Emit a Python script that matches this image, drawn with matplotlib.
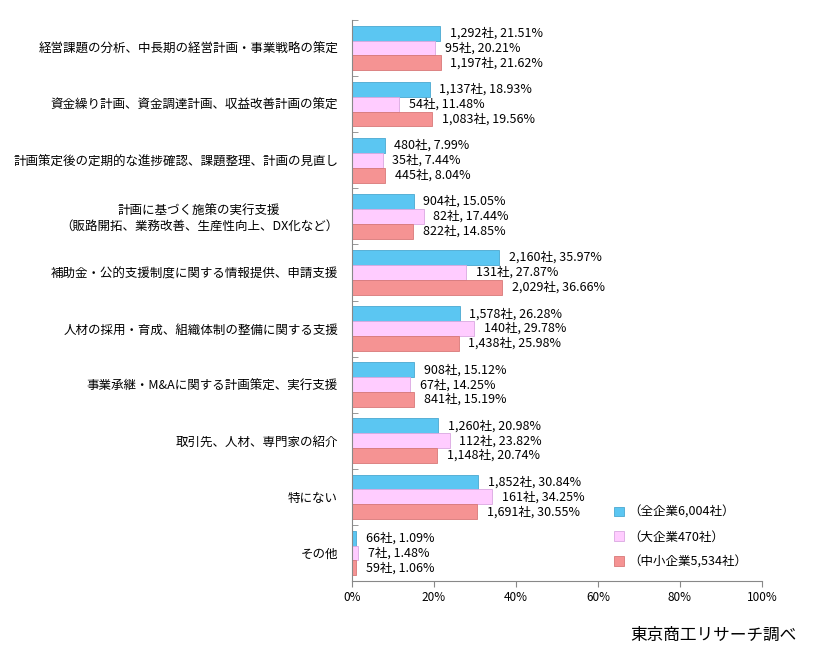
import matplotlib.pyplot as plt
import numpy as np
from matplotlib.patches import Patch

#### -------- データ -------- ####
categories = [
    "経営課題の分析、中長期の経営計画・事業戦略の策定",
    "資金繰り計画、資金調達計画、収益改善計画の策定",
    "計画策定後の定期的な進捗確認、課題整理、計画の見直し",
    "計画に基づく施策の実行支援\n（販路開拓、業務改善、生産性向上、DX化など）",
    "補助金・公的支援制度に関する情報提供、申請支援",
    "人材の採用・育成、組織体制の整備に関する支援",
    "事業承継・M&Aに関する計画策定、実行支援",
    "取引先、人材、専門家の紹介",
    "特にない",
    "その他",
]
series_names = ["（全企業6,004社）", "（大企業470社）", "（中小企業5,534社）"]
all_counts = [1292, 1137, 480, 904, 2160, 1578, 908, 1260, 1852, 66]
all_pct = [21.51, 18.93, 7.99, 15.05, 35.97, 26.28, 15.12, 20.98, 30.84, 1.09]
large_counts = [95, 54, 35, 82, 131, 140, 67, 112, 161, 7]
large_pct = [20.21, 11.48, 7.44, 17.44, 27.87, 29.78, 14.25, 23.82, 34.25, 1.48]
sme_counts = [1197, 1083, 445, 822, 2029, 1438, 841, 1148, 1691, 59]
sme_pct = [21.62, 19.56, 8.04, 14.85, 36.66, 25.98, 15.19, 20.74, 30.55, 1.06]
x_ticks = [0, 20, 40, 60, 80, 100]

#### -------- グラフ設定 -------- ####
plt.rcParams["font.family"] = ["Noto Sans CJK JP", "DejaVu Sans"]
plt.rcParams["font.size"] = 9

colors = ["#5bc6f2", "#ffccff", "#f59393"]
edges = ["#4aa8d0", "#d9a8e0", "#d87878"]

fig = plt.figure(figsize=(8.19, 6.56), dpi=100)
ax = fig.add_axes([352 / 819, 1 - 581 / 656, 410 / 819, 561 / 656])

y = np.arange(len(categories))
h = 0.265
series = [(all_counts, all_pct), (large_counts, large_pct), (sme_counts, sme_pct)]
for i, (counts, pcts) in enumerate(series):
    pos = y + (i - 1) * h
    ax.barh(pos, pcts, height=h, color=colors[i], edgecolor=edges[i], lw=0.6)
    for p, c, v in zip(pos, counts, pcts):
        ax.annotate(f"{c:,}社, {v:.2f}%", (v, p), xytext=(7, 0),
                    textcoords="offset points", va="center", ha="left",
                    fontsize=9)

ax.set_xlim(0, 100)
ax.set_ylim(len(categories) - 0.5, -0.5)
ax.set_xticks(x_ticks)
ax.set_xticklabels([f"{t}%" for t in x_ticks], fontsize=8.5)
ax.set_yticks(y)
ax.set_yticklabels(categories, fontsize=9, multialignment="center")
ax.set_yticks(np.arange(len(categories) + 1) - 0.5, minor=True)
ax.tick_params(axis="y", which="major", length=0, pad=10)
ax.tick_params(axis="y", which="minor", length=4, direction="in", color="#888888")
ax.tick_params(axis="x", length=4, color="#888888", pad=3)
for s in ["top", "right"]:
    ax.spines[s].set_visible(False)
for s in ["left", "bottom"]:
    ax.spines[s].set_color("#888888")

handles = [Patch(facecolor=colors[i], edgecolor=edges[i], lw=0.6) for i in range(3)]
fig.legend(handles, series_names, loc="center left",
           bbox_to_anchor=(603 / 819, 1 - 537 / 656), frameon=False,
           handlelength=0.8, handleheight=0.8, handletextpad=0.3,
           labelspacing=0.95, fontsize=9)

fig.text(797 / 819, 1 - 635 / 656, "東京商工リサーチ調べ", ha="right",
         va="center", fontsize=12)

fig.savefig("out.png", dpi=100)
